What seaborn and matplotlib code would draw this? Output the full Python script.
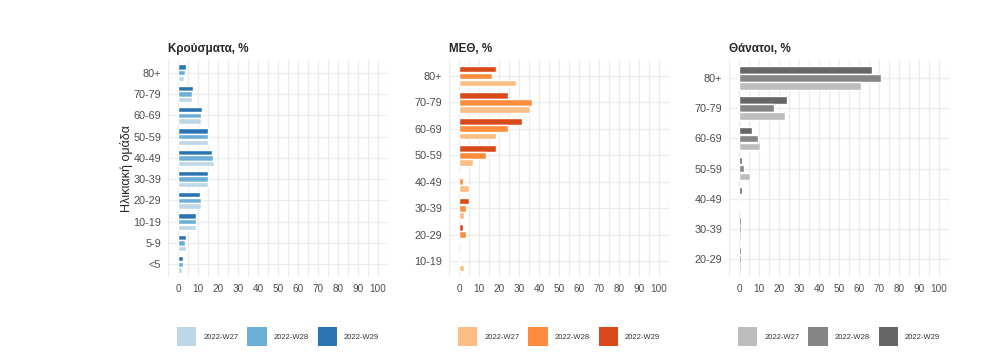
import matplotlib.pyplot as plt
import seaborn as sns
import pandas as pd
from matplotlib.patches import Patch

weeks = ['2022-W27', '2022-W28', '2022-W29']

# cases (%)
case_groups = ['80+', '70-79', '60-69', '50-59', '40-49', '30-39', '20-29', '10-19', '5-9', '<5']
case_w27 = [3.1, 7.0, 11.5, 14.9, 17.9, 14.9, 11.5, 9.0, 4.1, 2.1]
case_w28 = [3.6, 7.0, 11.5, 14.9, 17.4, 14.9, 11.5, 9.0, 3.6, 2.6]
case_w29 = [4.1, 7.7, 12.0, 14.9, 16.9, 14.9, 11.0, 9.0, 4.1, 2.6]

# ICU (%)
icu_groups = ['80+', '70-79', '60-69', '50-59', '40-49', '30-39', '20-29', '10-19']
icu_w27 = [28.6, 35.6, 18.7, 6.9, 4.9, 2.5, 0, 2.5]
icu_w28 = [16.7, 36.6, 24.6, 13.3, 2.0, 3.4, 3.4, 0]
icu_w29 = [18.4, 24.6, 31.5, 18.4, 0, 4.9, 2.0, 0]

# deaths (%)
death_groups = ['80+', '70-79', '60-69', '50-59', '40-49', '30-39', '20-29']
death_w27 = [60.8, 23.0, 10.6, 5.6, 0.7, 0.8, 0.8]
death_w28 = [71.2, 17.5, 9.6, 2.6, 0, 0.8, 0.8]
death_w29 = [66.7, 24.0, 6.6, 1.7, 1.3, 0.8, 0.8]

blues = ['#bdd7e7', '#6baed6', '#2b74b4']
oranges = ['#fdbe85', '#fd8d3c', '#d94a1a']
greys = ['#bdbdbd', '#858585', '#666666']

sns.set_style('white')
plt.rcParams['font.family'] = ['Liberation Sans', 'DejaVu Sans']


def long_df(groups, w27, w28, w29):
    rows = []
    for wk, vals in zip(weeks, [w27, w28, w29]):
        for g, v in zip(groups, vals):
            rows.append({'group': g, 'week': wk, 'value': v})
    return pd.DataFrame(rows)


panels = [
    ('Κρούσματα, %', long_df(case_groups, case_w27, case_w28, case_w29), case_groups, blues, 168),
    ('ΜΕΘ, %', long_df(icu_groups, icu_w27, icu_w28, icu_w29), icu_groups, oranges, 449),
    ('Θάνατοι, %', long_df(death_groups, death_w27, death_w28, death_w29), death_groups, greys, 729),
]

W, H = 1007, 360
fig = plt.figure(figsize=(W / 100, H / 100), dpi=100)

for i, (title, df, groups, cols, left) in enumerate(panels):
    ax = fig.add_axes([left / W, 1 - 277 / H, 220 / W, 217 / H])
    pal = dict(zip(weeks, cols))
    sns.barplot(data=df, x='value', y='group', hue='week', order=groups,
                hue_order=weeks[::-1], palette=pal, orient='h',
                width=0.8, gap=0.06, errorbar=None, legend=False, ax=ax,
                saturation=1)
    ax.set_xlim(-5, 105)
    ax.set_ylim(len(groups) - 1 + 0.6, -0.6)
    ax.set_xticks(range(0, 101, 10))
    ax.set_xticks(range(-5, 106, 10), minor=True)
    ax.grid(True, which='both', axis='x', color='#ebebeb', linewidth=0.9)
    ax.grid(True, which='major', axis='y', color='#ebebeb', linewidth=0.9)
    ax.set_axisbelow(True)
    for s in ax.spines.values():
        s.set_visible(False)
    ax.tick_params(axis='both', which='both', length=0, labelcolor='#4d4d4d')
    ax.tick_params(axis='x', pad=5, labelsize=7.2)
    ax.tick_params(axis='y', pad=5, labelsize=7.8)
    ax.set_xlabel('')
    ax.set_ylabel('Ηλικιακή ομάδα' if i == 0 else '', fontsize=9, labelpad=0)
    ax.set_title(title, loc='left', fontsize=8.4, fontweight='bold', pad=6)

    handles = [Patch(facecolor=c, edgecolor='none') for c in cols]
    ax.legend(handles, weeks, loc='center', bbox_to_anchor=(0.5, -0.274), ncol=3,
              frameon=False, fontsize=5.5, handlelength=2.5, handleheight=3.4,
              handletextpad=0.9, columnspacing=1.2, labelcolor='#333333')

fig.savefig('out.png', dpi=100)
